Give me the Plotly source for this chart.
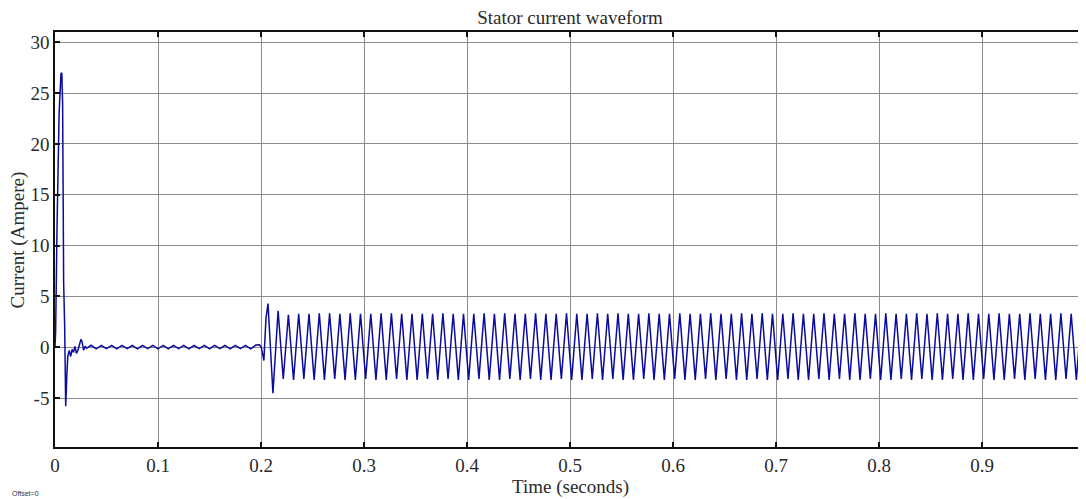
import plotly.graph_objects as go

# ---- start-up transient (time s, current A) ----
tr_t = [0.0, 0.0006, 0.002, 0.004, 0.0058, 0.0066, 0.0074, 0.0084, 0.0094, 0.0104,
        0.0114, 0.0124, 0.0138, 0.0152, 0.0166, 0.018, 0.0194, 0.0208, 0.0222,
        0.0236, 0.0252, 0.0264, 0.0278, 0.0292, 0.0306]
tr_i = [0.0, 1.5, 12.0, 23.0, 26.9, 27.0, 24.0, 6.3, 2.0, -5.8,
        -3.0, -0.9, -0.3, -0.9, -0.2, -0.5, 0.1, -0.6, -0.3,
        0.2, 0.8, 0.5, -0.3, 0.1, -0.1]

# ---- no-load ripple ----
rp_t = [0.035, 0.040, 0.045, 0.050, 0.055, 0.060, 0.065, 0.070, 0.075, 0.080,
        0.085, 0.090, 0.095, 0.100, 0.105, 0.110, 0.115, 0.120, 0.125, 0.130,
        0.135, 0.140, 0.145, 0.150, 0.155, 0.160, 0.165, 0.170, 0.175, 0.180,
        0.185, 0.190, 0.195]
rp_i = [0.2, -0.15, 0.18, -0.12, 0.2, -0.15, 0.2, -0.12, 0.18, -0.15,
        0.2, -0.12, 0.2, -0.15, 0.18, -0.15, 0.2, -0.12, 0.2, -0.15,
        0.18, -0.12, 0.2, -0.15, 0.2, -0.12, 0.18, -0.15, 0.2, -0.12,
        0.2, -0.15, 0.22]

# ---- load step transition ----
tx_t = [0.1985, 0.2003, 0.2015, 0.2028, 0.2048, 0.2068]
tx_i = [0.25, 0.0, -0.5, -1.3, 2.8, 4.3]

# ---- steady state: troughs and peaks ----
trough_t = [0.2116, 0.2216, 0.2316, 0.2416, 0.2516, 0.2616, 0.2716, 0.2816, 0.2916,
            0.3016, 0.3116, 0.3216, 0.3316, 0.3416, 0.3516, 0.3616, 0.3716, 0.3816, 0.3916,
            0.4016, 0.4116, 0.4216, 0.4316, 0.4416, 0.4516, 0.4616, 0.4716, 0.4816, 0.4916,
            0.5016, 0.5116, 0.5216, 0.5316, 0.5416, 0.5516, 0.5616, 0.5716, 0.5816, 0.5916,
            0.6016, 0.6116, 0.6216, 0.6316, 0.6416, 0.6516, 0.6616, 0.6716, 0.6816, 0.6916,
            0.7016, 0.7116, 0.7216, 0.7316, 0.7416, 0.7516, 0.7616, 0.7716, 0.7816, 0.7916,
            0.8016, 0.8116, 0.8216, 0.8316, 0.8416, 0.8516, 0.8616, 0.8716, 0.8816, 0.8916,
            0.9016, 0.9116, 0.9216, 0.9316, 0.9416, 0.9516, 0.9616, 0.9716, 0.9816, 0.9916]
trough_i = [-4.5, -3.1, -3.2, -3.1, -3.2, -3.2, -3.1, -3.2, -3.2,
            -3.1, -3.2, -3.2, -3.1, -3.2, -3.2, -3.1, -3.2, -3.1, -3.2,
            -3.2, -3.1, -3.2, -3.2, -3.1, -3.2, -3.1, -3.2, -3.2, -3.1,
            -3.2, -3.2, -3.1, -3.2, -3.1, -3.2, -3.2, -3.1, -3.2, -3.2,
            -3.1, -3.2, -3.2, -3.1, -3.2, -3.1, -3.2, -3.2, -3.1, -3.2,
            -3.2, -3.1, -3.2, -3.2, -3.1, -3.2, -3.1, -3.2, -3.2, -3.1,
            -3.2, -3.2, -3.1, -3.2, -3.1, -3.2, -3.2, -3.1, -3.2, -3.2,
            -3.1, -3.2, -3.2, -3.1, -3.2, -3.1, -3.2, -3.2, -3.1, -3.2]
peak_t = [0.2166, 0.2266, 0.2366, 0.2466, 0.2566, 0.2666, 0.2766, 0.2866, 0.2966,
          0.3066, 0.3166, 0.3266, 0.3366, 0.3466, 0.3566, 0.3666, 0.3766, 0.3866, 0.3966,
          0.4066, 0.4166, 0.4266, 0.4366, 0.4466, 0.4566, 0.4666, 0.4766, 0.4866, 0.4966,
          0.5066, 0.5166, 0.5266, 0.5366, 0.5466, 0.5566, 0.5666, 0.5766, 0.5866, 0.5966,
          0.6066, 0.6166, 0.6266, 0.6366, 0.6466, 0.6566, 0.6666, 0.6766, 0.6866, 0.6966,
          0.7066, 0.7166, 0.7266, 0.7366, 0.7466, 0.7566, 0.7666, 0.7766, 0.7866, 0.7966,
          0.8066, 0.8166, 0.8266, 0.8366, 0.8466, 0.8566, 0.8666, 0.8766, 0.8866, 0.8966,
          0.9066, 0.9166, 0.9266, 0.9366, 0.9466, 0.9566, 0.9666, 0.9766, 0.9866, 0.9966]
peak_i = [3.6, 3.2, 3.3, 3.3, 3.35, 3.35, 3.3, 3.35, 3.3,
          3.3, 3.35, 3.35, 3.3, 3.3, 3.3, 3.3, 3.35, 3.3, 3.3,
          3.3, 3.35, 3.3, 3.35, 3.3, 3.3, 3.35, 3.3, 3.3, 3.35,
          3.3, 3.3, 3.35, 3.3, 3.35, 3.3, 3.3, 3.35, 3.3, 3.3,
          3.35, 3.3, 3.3, 3.35, 3.3, 3.3, 3.35, 3.3, 3.35, 3.3,
          3.3, 3.35, 3.3, 3.3, 3.35, 3.3, 3.3, 3.35, 3.3, 3.3,
          3.35, 3.3, 3.3, 3.35, 3.3, 3.35, 3.3, 3.3, 3.35, 3.3,
          3.3, 3.35, 3.3, 3.3, 3.35, 3.3, 3.3, 3.35, 3.3, 3.35]
end_t = [1.0]
end_i = [-2.5]

x_ticks = [0, 0.1, 0.2, 0.3, 0.4, 0.5, 0.6, 0.7, 0.8, 0.9, 1.0]
x_labels = ["0", "0.1", "0.2", "0.3", "0.4", "0.5", "0.6", "0.7", "0.8", "0.9", "1"]
y_ticks = [-5, 0, 5, 10, 15, 20, 25, 30]
y_labels = ["-5", "0", "5", "10", "15", "20", "25", "30"]

# assemble series
ss_t, ss_i = [], []
for a, b, c, d in zip(trough_t, trough_i, peak_t, peak_i):
    ss_t += [a, c]
    ss_i += [b, d]
t_all = tr_t + rp_t + tx_t + ss_t + end_t
i_all = tr_i + rp_i + tx_i + ss_i + end_i

FONT = "Liberation Serif, Times New Roman, serif"
GRID = "#8c8c8c"
TXT = "#2a2a2a"

fig = go.Figure()
fig.add_trace(go.Scatter(x=t_all, y=i_all, mode="lines",
                         line=dict(color="#0c0c9c", width=1.5),
                         showlegend=False, hoverinfo="skip"))

axis_common = dict(showgrid=True, gridcolor=GRID, gridwidth=1.3,
                   zeroline=False, showline=True, linecolor="#111111", linewidth=1.5,
                   mirror="ticks", ticks="inside", ticklen=5, tickcolor="#111111",
                   tickwidth=1.5, automargin=False,
                   tickfont=dict(family=FONT, size=19, color=TXT))

# the page body adds an 8px offset; margins compensate for it
fig.update_layout(
    width=1086, height=499,
    paper_bgcolor="white", plot_bgcolor="white",
    margin=dict(l=47, r=9, t=24, b=60, autoexpand=False),
    font=dict(family=FONT, size=19, color=TXT),
    title=dict(text="Stator current waveform", x=0.5, xref="paper",
               y=0.982, yref="container", xanchor="center", yanchor="middle",
               font=dict(family=FONT, size=19, color=TXT)),
    xaxis=dict(range=[0, 1], tickvals=x_ticks, ticktext=x_labels,
               ticklabeloverflow="allow", **axis_common),
    yaxis=dict(range=[-9.8, 31], tickvals=y_ticks, ticktext=y_labels,
               **axis_common),
)

# axis titles
fig.add_annotation(text="Time (seconds)", xref="paper", yref="paper",
                   x=0.5, y=-0.096, xanchor="center", yanchor="middle",
                   showarrow=False, font=dict(family=FONT, size=19, color=TXT))
fig.add_annotation(text="Current (Ampere)", xref="paper", yref="paper",
                   x=-0.036, y=0.5, xanchor="center", yanchor="middle",
                   textangle=-90, showarrow=False,
                   font=dict(family=FONT, size=19, color=TXT))

fig.add_annotation(text="Offset=0", xref="paper", yref="paper",
                   x=-0.044, y=-0.111, xanchor="left", yanchor="middle",
                   showarrow=False,
                   font=dict(family="Liberation Sans, Arial, sans-serif", size=7,
                             color="#333333"))

fig.write_html("out.html")
